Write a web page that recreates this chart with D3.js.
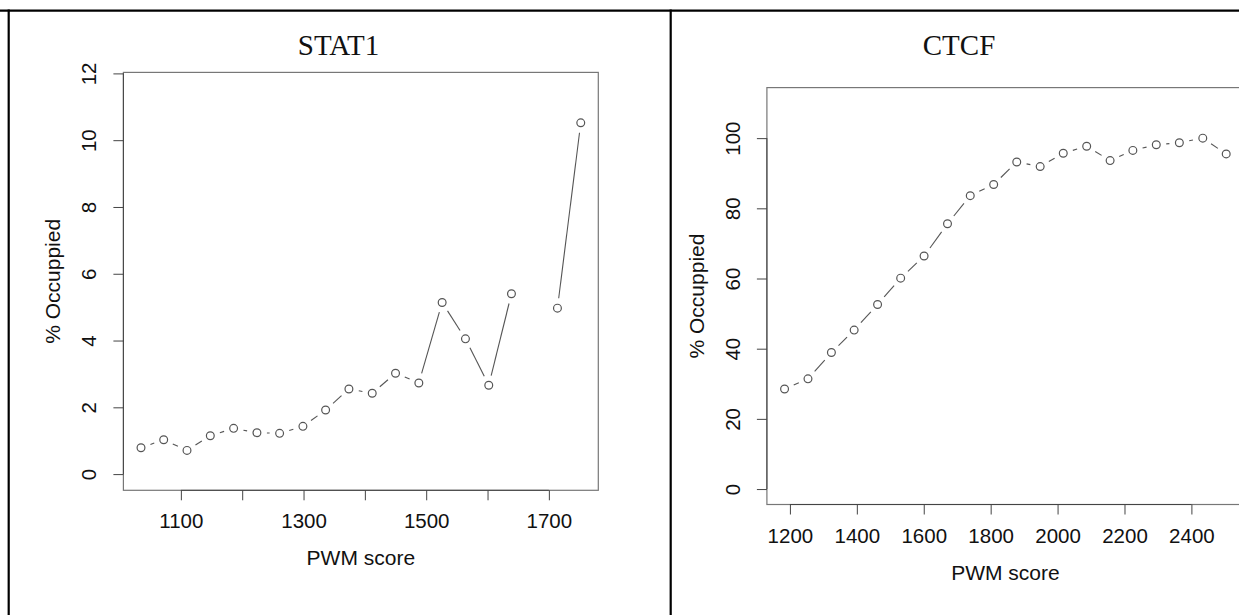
<!DOCTYPE html>
<html>
<head>
<meta charset="utf-8">
<script src="https://cdn.jsdelivr.net/npm/d3@7"></script>
<style>
  body { margin: 0; background: #fff; }
  svg { display: block; }
</style>
</head>
<body>
<svg id="chart" width="1239" height="615"></svg>
<script>
// STAT1 panel (one bin has no value)
const stat1Scores = [1035, 1072, 1110, 1148, 1186, 1224, 1261, 1299, 1336, 1374,
                     1412, 1450, 1488, 1526, 1564, 1602, 1639, 1677, 1714, 1752]
const stat1Occupied = [0.79, 1.03, 0.71, 1.15, 1.37, 1.24, 1.22, 1.43, 1.92, 2.55,
                       2.42, 3.02, 2.73, 5.14, 4.05, 2.66, 5.40, null, 4.97, 10.52]
const stat1XTicks = [1100, 1200, 1300, 1400, 1500, 1600, 1700]
const stat1XLabels = ['1100', '', '1300', '', '1500', '', '1700']
const stat1YTicks = [0, 2, 4, 6, 8, 10, 12]

// CTCF panel
const ctcfScores = [1184, 1254, 1324, 1392, 1462, 1531, 1601, 1671, 1739, 1809,
                    1878, 1948, 2017, 2087, 2157, 2225, 2295, 2364, 2434, 2504]
const ctcfOccupied = [28.5, 31.4, 38.9, 45.3, 52.6, 60.1, 66.4, 75.6, 83.6, 86.8,
                      93.2, 91.9, 95.7, 97.7, 93.6, 96.5, 98.1, 98.7, 100.0, 95.5]
const ctcfXTicks = [1200, 1400, 1600, 1800, 2000, 2200, 2400]
const ctcfYTicks = [0, 20, 40, 60, 80, 100]

const svg = d3.select('#chart')
const sans = '"Liberation Sans", Arial, Helvetica, sans-serif'
const serif = '"Liberation Serif", "Times New Roman", serif'

// table lines round the two panels
svg.append('line').attr('x1', 0).attr('x2', 1239).attr('y1', 10.7).attr('y2', 10.7)
    .attr('stroke', '#000').attr('stroke-width', 2.2)
svg.append('line').attr('x1', 8.7).attr('x2', 8.7).attr('y1', 9.6).attr('y2', 615)
    .attr('stroke', '#000').attr('stroke-width', 2.2)
svg.append('line').attr('x1', 670.7).attr('x2', 670.7).attr('y1', 9.6).attr('y2', 615)
    .attr('stroke', '#000').attr('stroke-width', 2.2)

function drawPanel(cfg) {
    const { box, xDomain, yDomain, xs, ys } = cfg
    const x = d3.scaleLinear().domain(xDomain).range([box.left, box.right])
    const y = d3.scaleLinear().domain(yDomain).range([box.bottom, box.top])
    const g = svg.append('g')

    // title
    g.append('text')
        .text(cfg.title)
        .attr('x', cfg.titleX)
        .attr('y', 55)
        .attr('text-anchor', 'middle')
        .attr('font-family', serif)
        .attr('font-size', 29)
        .attr('fill', '#111')

    // plot box
    g.append('rect')
        .attr('x', box.left).attr('y', box.top)
        .attr('width', box.right - box.left).attr('height', box.bottom - box.top)
        .attr('fill', 'none').attr('stroke', '#777').attr('stroke-width', 1.2)

    // x axis
    const xAxis = g.append('g').attr('transform', 'translate(0,' + box.bottom + ')')
        .call(d3.axisBottom(x).tickValues(cfg.xTicks).tickSizeOuter(0).tickSizeInner(10)
            .tickFormat((d, i) => cfg.xLabels ? cfg.xLabels[i] : d))
    xAxis.select('.domain').remove()
    xAxis.append('line')
        .attr('x1', x(cfg.xTicks[0])).attr('x2', x(cfg.xTicks[cfg.xTicks.length - 1]))
        .attr('stroke', '#444')
    xAxis.selectAll('.tick line').attr('stroke', '#444')
    xAxis.selectAll('.tick text')
        .attr('y', 38).attr('dy', 0)
        .attr('font-family', sans).attr('font-size', 20.5).attr('fill', '#111')

    // y axis, labels parallel to the axis
    const yAxis = g.append('g').attr('transform', 'translate(' + box.left + ',0)')
        .call(d3.axisLeft(y).tickValues(cfg.yTicks).tickSizeOuter(0).tickSizeInner(10))
    yAxis.select('.domain').remove()
    yAxis.append('line')
        .attr('y1', y(cfg.yTicks[0])).attr('y2', y(cfg.yTicks[cfg.yTicks.length - 1]))
        .attr('stroke', '#444')
    yAxis.selectAll('.tick line').attr('stroke', '#444')
    yAxis.selectAll('.tick text')
        .attr('x', 0).attr('dy', 0)
        .attr('transform', 'translate(-27,0) rotate(-90)')
        .attr('text-anchor', 'middle')
        .attr('font-family', sans).attr('font-size', 20.5).attr('fill', '#111')

    // axis titles
    g.append('text')
        .text('PWM score')
        .attr('x', (box.left + box.right) / 2)
        .attr('y', box.bottom + 75)
        .attr('text-anchor', 'middle')
        .attr('font-family', sans).attr('font-size', 21).attr('fill', '#111')

    g.append('text')
        .text('% Occuppied')
        .attr('transform', 'translate(' + (box.left - 63) + ',' + ((box.top + box.bottom) / 2) + ') rotate(-90)')
        .attr('text-anchor', 'middle')
        .attr('font-family', sans).attr('font-size', 21).attr('fill', '#111')

    // points joined like R type = "b": segments stop short of each circle
    const pts = xs.map((d, i) => ({ px: x(d), py: ys[i] === null ? null : y(ys[i]) }))
    const gap = 10
    const segs = []
    for (let i = 0; i < pts.length - 1; i++) {
        const a = pts[i], b = pts[i + 1]
        if (a.py === null || b.py === null) continue
        const dx = b.px - a.px, dy = b.py - a.py
        const len = Math.sqrt(dx * dx + dy * dy)
        if (len <= 2 * gap) continue
        const ux = dx / len, uy = dy / len
        segs.push([a.px + ux * gap, a.py + uy * gap, b.px - ux * gap, b.py - uy * gap])
    }
    g.append('g').selectAll('line').data(segs).join('line')
        .attr('x1', d => d[0]).attr('y1', d => d[1])
        .attr('x2', d => d[2]).attr('y2', d => d[3])
        .attr('stroke', '#555').attr('stroke-width', 1.1)

    g.append('g').selectAll('circle').data(pts.filter(p => p.py !== null)).join('circle')
        .attr('cx', d => d.px).attr('cy', d => d.py).attr('r', 3.9)
        .attr('fill', 'none').attr('stroke', '#555').attr('stroke-width', 1.2)
}

drawPanel({
    title: 'STAT1', titleX: 338.5,
    box: { left: 123.4, right: 598.3, top: 72.4, bottom: 490.3 },
    xDomain: [1006.3, 1780.6], yDomain: [-0.485, 12.03],
    xs: stat1Scores, ys: stat1Occupied,
    xTicks: stat1XTicks, xLabels: stat1XLabels, yTicks: stat1YTicks
})

drawPanel({
    title: 'CTCF', titleX: 959,
    box: { left: 766.9, right: 1244, top: 87.6, bottom: 504.5 },
    xDomain: [1131.2, 2557.2], yDomain: [-4.4, 114.4],
    xs: ctcfScores, ys: ctcfOccupied,
    xTicks: ctcfXTicks, xLabels: null, yTicks: ctcfYTicks
})
</script>
</body>
</html>
